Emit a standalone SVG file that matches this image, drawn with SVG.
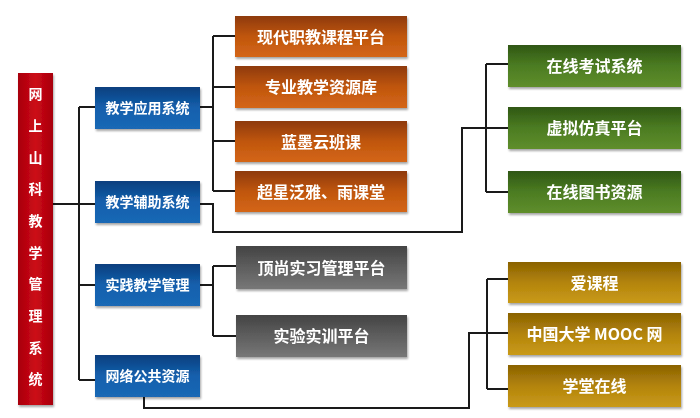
<svg xmlns="http://www.w3.org/2000/svg" width="700" height="418" viewBox="0 0 700 418">
<defs>
<linearGradient id="gRed" x1="0" y1="0" x2="1" y2="0"><stop offset="0" stop-color="#a8000e"/><stop offset="0.5" stop-color="#cc0a14"/><stop offset="1" stop-color="#a8000e"/></linearGradient>
<linearGradient id="gBlue" x1="0" y1="0" x2="0" y2="1"><stop offset="0" stop-color="#0b3f7e"/><stop offset="0.5" stop-color="#1460ad"/><stop offset="1" stop-color="#1a68b5"/></linearGradient>
<linearGradient id="gOrange" x1="0" y1="0" x2="0" y2="1"><stop offset="0" stop-color="#8e3a08"/><stop offset="0.5" stop-color="#c0560e"/><stop offset="1" stop-color="#d46616"/></linearGradient>
<linearGradient id="gGreen" x1="0" y1="0" x2="0" y2="1"><stop offset="0" stop-color="#2f5714"/><stop offset="0.5" stop-color="#4c7c22"/><stop offset="1" stop-color="#5f8e2c"/></linearGradient>
<linearGradient id="gGray" x1="0" y1="0" x2="0" y2="1"><stop offset="0" stop-color="#444444"/><stop offset="0.5" stop-color="#5e5e5e"/><stop offset="1" stop-color="#777777"/></linearGradient>
<linearGradient id="gGold" x1="0" y1="0" x2="0" y2="1"><stop offset="0" stop-color="#8a6202"/><stop offset="0.5" stop-color="#b3840c"/><stop offset="1" stop-color="#c99a18"/></linearGradient>
<filter id="sh" x="-10%" y="-10%" width="125%" height="135%"><feDropShadow dx="1" dy="2" stdDeviation="1.2" flood-color="#000" flood-opacity="0.35"/></filter>
</defs>
<style>
.box{filter:url(#sh);}
.t{font-family:"Noto Sans CJK SC","Liberation Sans",sans-serif;font-weight:bold;font-size:16px;fill:#ffffff;text-anchor:middle;dominant-baseline:central;}
.tb{font-size:14px;}
.tv{font-size:14px;}
.ln{fill:none;stroke:#1a1a1a;stroke-width:2;}
</style>
<rect width="700" height="418" fill="#ffffff"/>
<g id="connectors">
<path class="ln" d="M53 204H79M79 107V380M79 107H95M79 204H95M79 285H95M79 380H95"/>
<path class="ln" d="M200 107H213M213 36V191M213 36H235M213 87H235M213 141H235M213 191H235"/>
<path class="ln" d="M200 204H213V232H462V128H508M486 64V192M486 64H508M486 192H508"/>
<path class="ln" d="M200 285H213M213 266V336M213 266H236M213 336H236"/>
<path class="ln" d="M144 397V408H469V333H508M487 279V389M487 279H508M487 389H508"/>
</g>
<g id="root" class="box"><rect x="18" y="73" width="35" height="332" fill="url(#gRed)"/>
<text class="t tv"><tspan x="35.5" y="93">网</tspan><tspan x="35.5" y="125">上</tspan><tspan x="35.5" y="157">山</tspan><tspan x="35.5" y="188">科</tspan><tspan x="35.5" y="220">教</tspan><tspan x="35.5" y="252">学</tspan><tspan x="35.5" y="283">管</tspan><tspan x="35.5" y="315">理</tspan><tspan x="35.5" y="347">系</tspan><tspan x="35.5" y="378">统</tspan></text></g>
<g id="b1" class="box"><rect x="95" y="87" width="105" height="42" fill="url(#gBlue)"/><text class="t tb" x="147.5" y="107">教学应用系统</text></g>
<g id="b2" class="box"><rect x="95" y="181" width="105" height="42" fill="url(#gBlue)"/><text class="t tb" x="147.5" y="201">教学辅助系统</text></g>
<g id="b3" class="box"><rect x="95" y="264" width="105" height="42" fill="url(#gBlue)"/><text class="t tb" x="147.5" y="284">实践教学管理</text></g>
<g id="b4" class="box"><rect x="95" y="355" width="105" height="42" fill="url(#gBlue)"/><text class="t tb" x="147.5" y="375">网络公共资源</text></g>
<g id="o1" class="box"><rect x="235" y="16" width="172" height="41" fill="url(#gOrange)"/><text class="t" x="321" y="36">现代职教课程平台</text></g>
<g id="o2" class="box"><rect x="235" y="66" width="172" height="42" fill="url(#gOrange)"/><text class="t" x="321" y="86">专业教学资源库</text></g>
<g id="o3" class="box"><rect x="235" y="121" width="172" height="41" fill="url(#gOrange)"/><text class="t" x="321" y="141">蓝墨云班课</text></g>
<g id="o4" class="box"><rect x="235" y="171" width="172" height="41" fill="url(#gOrange)"/><text class="t" x="321" y="191">超星泛雅、雨课堂</text></g>
<g id="s1" class="box"><rect x="236" y="246" width="171" height="43" fill="url(#gGray)"/><text class="t" x="321.5" y="267">顶尚实习管理平台</text></g>
<g id="s2" class="box"><rect x="236" y="315" width="171" height="42" fill="url(#gGray)"/><text class="t" x="321.5" y="335">实验实训平台</text></g>
<g id="g1" class="box"><rect x="508" y="45" width="173" height="42" fill="url(#gGreen)"/><text class="t" x="594.5" y="65">在线考试系统</text></g>
<g id="g2" class="box"><rect x="508" y="107" width="173" height="42" fill="url(#gGreen)"/><text class="t" x="594.5" y="127">虚拟仿真平台</text></g>
<g id="g3" class="box"><rect x="508" y="171" width="173" height="42" fill="url(#gGreen)"/><text class="t" x="594.5" y="191">在线图书资源</text></g>
<g id="y1" class="box"><rect x="508" y="262" width="173" height="41" fill="url(#gGold)"/><text class="t" x="594.5" y="282">爱课程</text></g>
<g id="y2" class="box"><rect x="508" y="313" width="173" height="42" fill="url(#gGold)"/><text class="t" x="594.5" y="333">中国大学 MOOC 网</text></g>
<g id="y3" class="box"><rect x="508" y="365" width="173" height="42" fill="url(#gGold)"/><text class="t" x="594.5" y="385">学堂在线</text></g>
</svg>
